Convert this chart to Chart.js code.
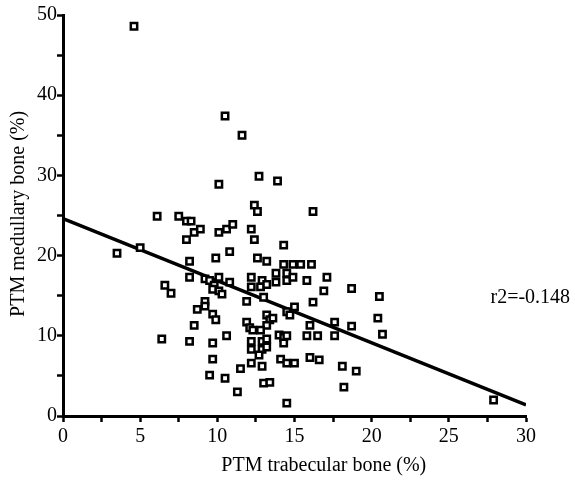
<!DOCTYPE html>
<html>
<head>
<meta charset="utf-8">
<script src="https://cdn.jsdelivr.net/npm/chart.js@4.4.1/dist/chart.umd.min.js"></script>
<style>
html,body{margin:0;padding:0;background:#fff;}
#wrap{width:575px;height:492px;position:relative;}
</style>
</head>
<body>
<div id="wrap"><canvas id="c" width="575" height="492"></canvas></div>
<script>
// PTM trabecular bone (%)
const trabecular = [
4.6,10.5,11.6,10.1,12.7,13.9,12.4,12.6,16.2,6.1,7.5,8.0,8.3,8.5,8.9,10.1,10.6,11.0,12.2,12.4,
8.0,14.3,3.5,5.0,10.8,8.2,9.9,12.6,13.2,14.3,14.9,15.4,16.1,6.6,7.0,8.2,10.1,9.2,9.5,9.8,
9.7,10.1,10.3,10.8,12.2,12.9,12.2,12.8,13.2,13.8,14.5,13.8,14.5,14.9,15.8,17.1,16.9,18.7,20.5,13.0,
11.9,16.2,9.2,8.7,9.2,9.7,9.9,8.5,10.6,8.2,11.9,12.1,12.3,13.2,13.4,13.6,13.2,12.8,14.0,14.3,
14.5,14.5,14.7,15.0,16.0,17.6,18.7,15.8,16.5,17.6,20.4,20.7,9.7,12.2,12.9,13.2,12.2,12.9,13.2,12.7,
14.3,9.7,12.2,12.9,14.1,14.5,15.0,16.0,16.6,18.1,19.0,9.5,10.5,11.5,13.0,13.4,11.3,18.2,14.5,6.4,
27.9
];
// PTM medullary bone (%)
const medullary = [
48.6,37.4,35.0,28.9,29.9,29.3,26.3,25.5,25.5,24.9,24.9,24.3,24.3,22.9,23.3,22.9,23.3,23.9,23.3,22.0,
22.0,21.3,20.3,21.0,20.5,19.3,19.7,19.7,19.3,18.9,18.9,18.9,18.9,16.3,15.3,17.3,17.3,17.1,16.9,16.3,
15.8,15.6,15.2,16.7,17.3,16.9,16.1,16.1,16.4,16.7,17.8,17.8,16.9,17.3,16.9,17.3,15.6,15.9,14.9,14.8,
14.3,14.2,14.3,13.3,13.7,12.7,12.0,11.3,10.0,9.3,11.7,11.0,10.7,12.6,12.0,12.2,11.3,10.7,10.1,9.8,
10.0,13.0,12.6,13.6,11.3,11.7,11.2,10.0,10.0,10.0,12.2,10.2,9.1,9.3,9.3,9.6,8.3,8.3,8.6,7.6,
9.1,7.1,6.6,6.2,7.1,6.6,6.6,7.3,7.0,6.2,5.6,5.1,4.7,5.9,4.1,4.2,3.0,3.6,1.6,9.6,
2.0
];
// regression line end points
const fitX = [0, 30];
const fitY = [24.6, 1.4];
const xTicks = [0, 5, 10, 15, 20, 25, 30];
const yTicks = [0, 10, 20, 30, 40, 50];
const r2Label = 'r2=-0.148';
const xTitle = 'PTM trabecular bone (%)';
const yTitle = 'PTM medullary bone (%)';

const pts = trabecular.map((x, i) => ({x: x, y: medullary[i]}));
const fit = fitX.map((x, i) => ({x: x, y: fitY[i]}));

const FONT = '"Liberation Serif", "Times New Roman", serif';

const annot = {
  id: 'annot',
  afterDraw(chart) {
    const ctx = chart.ctx;
    const xs = chart.scales.x, ys = chart.scales.y;
    ctx.save();
    ctx.fillStyle = '#000';
    ctx.font = '20px ' + FONT;
    ctx.textAlign = 'left';
    ctx.textBaseline = 'middle';
    ctx.fillText(r2Label, xs.getPixelForValue(27.7), ys.getPixelForValue(14.8));
    ctx.font = '20px ' + FONT;
    ctx.textAlign = 'center';
    ctx.fillText(xTitle, xs.getPixelForValue(16.9), 466);
    ctx.translate(19, ys.getPixelForValue(25.2));
    ctx.rotate(-Math.PI / 2);
    ctx.fillText(yTitle, 0, 0);
    ctx.restore();
  }
};

new Chart(document.getElementById('c'), {
  type: 'scatter',
  data: {
    datasets: [
      {
        data: pts,
        pointStyle: 'rect',
        pointRadius: 4.5,
        pointBorderWidth: 2.5,
        borderColor: '#000',
        backgroundColor: '#fff',
        pointHoverRadius: 4.5
      },
      {
        type: 'line',
        data: fit,
        borderColor: '#000',
        borderWidth: 3.5,
        pointRadius: 0,
        fill: false
      }
    ]
  },
  options: {
    responsive: false,
    animation: false,
    events: [],
    layout: {padding: {left: 0, right: 49, top: 15, bottom: 0}},
    plugins: {legend: {display: false}, tooltip: {enabled: false}},
    scales: {
      x: {
        type: 'linear',
        min: 0, max: 30,
        afterFit(s) { s.height = 76; },
        afterBuildTicks(s) {
          const t = [];
          for (let v = 0; v <= 30; v += 2.5) t.push({value: v});
          s.ticks = t;
        },
        border: {display: true, color: '#000', width: 3},
        grid: {display: true, drawOnChartArea: false, color: '#000', tickColor: '#000', tickLength: 6, tickWidth: 2.5},
        ticks: {
          color: '#000', font: {family: FONT, size: 20}, padding: 3, maxRotation: 0,
          autoSkip: false,
          callback: (v) => xTicks.includes(v) ? String(v) : ''
        }
      },
      y: {
        type: 'linear',
        min: 0, max: 50,
        afterFit(s) { s.width = 63; },
        afterBuildTicks(s) {
          const t = [];
          for (let v = 0; v <= 50; v += 5) t.push({value: v});
          s.ticks = t;
        },
        border: {display: true, color: '#000', width: 3},
        grid: {display: true, drawOnChartArea: false, color: '#000', tickColor: '#000', tickLength: 6, tickWidth: 2.5},
        ticks: {
          color: '#000', font: {family: FONT, size: 20}, padding: 0,
          autoSkip: false,
          callback: (v) => yTicks.includes(v) ? String(v) : ''
        }
      }
    }
  },
  plugins: [annot]
});
</script>
</body>
</html>
